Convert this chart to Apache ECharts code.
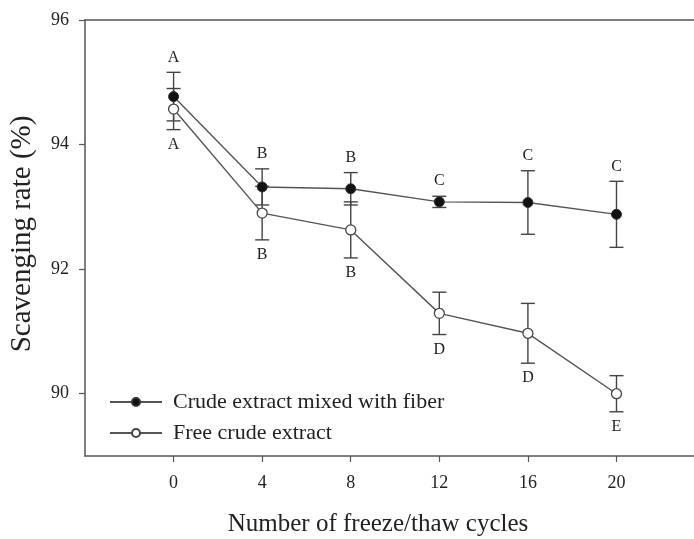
<!DOCTYPE html>
<html>
<head>
<meta charset="utf-8">
<script src="https://cdn.jsdelivr.net/npm/echarts@6/dist/echarts.min.js"></script>
<style>
html,body{margin:0;padding:0;background:#fff;}
#chart{width:694px;height:539px;}
</style>
</head>
<body>
<div id="chart"></div>
<script>
var cycles = [0, 4, 8, 12, 16, 20];
var fiberMean = [94.77, 93.32, 93.29, 93.08, 93.07, 92.88];
var fiberErr = [0.39, 0.29, 0.26, 0.09, 0.51, 0.53];
var fiberLetters = ['A', 'B', 'B', 'C', 'C', 'C'];
var freeMean = [94.57, 92.90, 92.63, 91.29, 90.97, 90.00];
var freeErr = [0.33, 0.43, 0.45, 0.34, 0.48, 0.29];
var freeLetters = ['A', 'B', 'B', 'D', 'D', 'E'];
var xTicks = [0, 4, 8, 12, 16, 20];
var yTicks = [90, 92, 94, 96];
var seriesNames = ['Crude extract mixed with fiber', 'Free crude extract'];
var xTitle = 'Number of freeze/thaw cycles';
var yTitle = 'Scavenging rate (%)';

var SERIF = '"Liberation Serif", "Times New Roman", serif';
var AX = '#555';

function errData(means, errs, letters) {
  return cycles.map(function (c, i) { return [c, means[i] - errs[i], means[i] + errs[i], letters[i]]; });
}

function makeErrRender(dir) {
  return function (params, api) {
    var x = api.value(0);
    var lo = api.coord([x, api.value(1)]);
    var hi = api.coord([x, api.value(2)]);
    var hw = 7;
    var letter = api.value(3);
    var ly = dir > 0 ? hi[1] - 15 : lo[1] + 15;
    return {
      type: 'group',
      children: [
        { type: 'line', shape: { x1: lo[0], y1: lo[1], x2: hi[0], y2: hi[1] }, style: { stroke: '#444', lineWidth: 1.4 } },
        { type: 'line', shape: { x1: lo[0] - hw, y1: lo[1], x2: lo[0] + hw, y2: lo[1] }, style: { stroke: '#444', lineWidth: 1.4 } },
        { type: 'line', shape: { x1: hi[0] - hw, y1: hi[1], x2: hi[0] + hw, y2: hi[1] }, style: { stroke: '#444', lineWidth: 1.4 } },
        { type: 'text', x: hi[0], y: ly, style: { text: letter, fill: '#222', font: '16px ' + SERIF, align: 'center', verticalAlign: 'middle' } }
      ]
    };
  };
}

var chart = echarts.init(document.getElementById('chart'));
chart.setOption({
  animation: false,
  backgroundColor: '#fff',
  grid: { left: 85, top: 20, right: 0, bottom: 83 },
  xAxis: [{
    type: 'value', min: -4, max: 23.5, interval: 4,
    splitLine: { show: false },
    axisLine: { show: true, onZero: false, lineStyle: { color: AX, width: 1.5 } },
    axisTick: { show: true, length: 6, lineStyle: { color: AX, width: 1.2 }, customValues: xTicks },
    axisLabel: { margin: 18, color: '#222', fontFamily: SERIF, fontSize: 18, customValues: xTicks }
  }, {
    type: 'value', min: -4, max: 23.5, position: 'top',
    splitLine: { show: false },
    axisLine: { show: true, onZero: false, lineStyle: { color: AX, width: 1.5 } },
    axisTick: { show: false }, axisLabel: { show: false }
  }],
  yAxis: {
    type: 'value', min: 89, max: 96,
    splitLine: { show: false },
    axisLine: { show: true, onZero: false, lineStyle: { color: AX, width: 1.5 } },
    axisTick: { show: true, length: 6, lineStyle: { color: AX, width: 1.2 }, customValues: yTicks },
    axisLabel: { margin: 16, color: '#222', fontFamily: SERIF, fontSize: 18, customValues: yTicks }
  },
  legend: {
    orient: 'vertical', left: 104, top: 386, itemWidth: 52, itemHeight: 10, itemGap: 9,
    data: seriesNames,
    textStyle: { color: '#222', fontFamily: SERIF, fontSize: 22, padding: [0, 0, 0, 6] }
  },
  graphic: [
    { type: 'text', x: 22, y: 234, rotation: Math.PI / 2, style: { text: yTitle, fill: '#222', font: '29px ' + SERIF, align: 'center', verticalAlign: 'middle' } },
    { type: 'text', x: 378, y: 524, style: { text: xTitle, fill: '#222', font: '25px ' + SERIF, align: 'center', verticalAlign: 'middle' } }
  ],
  series: [
    {
      name: seriesNames[0], type: 'line',
      data: cycles.map(function (c, i) { return [c, fiberMean[i]]; }),
      symbol: 'circle', symbolSize: 10,
      lineStyle: { color: '#555', width: 1.4 },
      itemStyle: { color: '#111', borderColor: '#333', borderWidth: 1 },
      z: 3
    },
    {
      name: seriesNames[1], type: 'line',
      data: cycles.map(function (c, i) { return [c, freeMean[i]]; }),
      symbol: 'circle', symbolSize: 10,
      lineStyle: { color: '#555', width: 1.4 },
      itemStyle: { color: '#fff', borderColor: '#444', borderWidth: 1.3 },
      z: 3
    },
    {
      type: 'custom', renderItem: makeErrRender(1), data: errData(fiberMean, fiberErr, fiberLetters),
      encode: { x: 0, y: [1, 2] }, z: 2, silent: true
    },
    {
      type: 'custom', renderItem: makeErrRender(-1), data: errData(freeMean, freeErr, freeLetters),
      encode: { x: 0, y: [1, 2] }, z: 2, silent: true
    }
  ]
});
</script>
</body>
</html>
